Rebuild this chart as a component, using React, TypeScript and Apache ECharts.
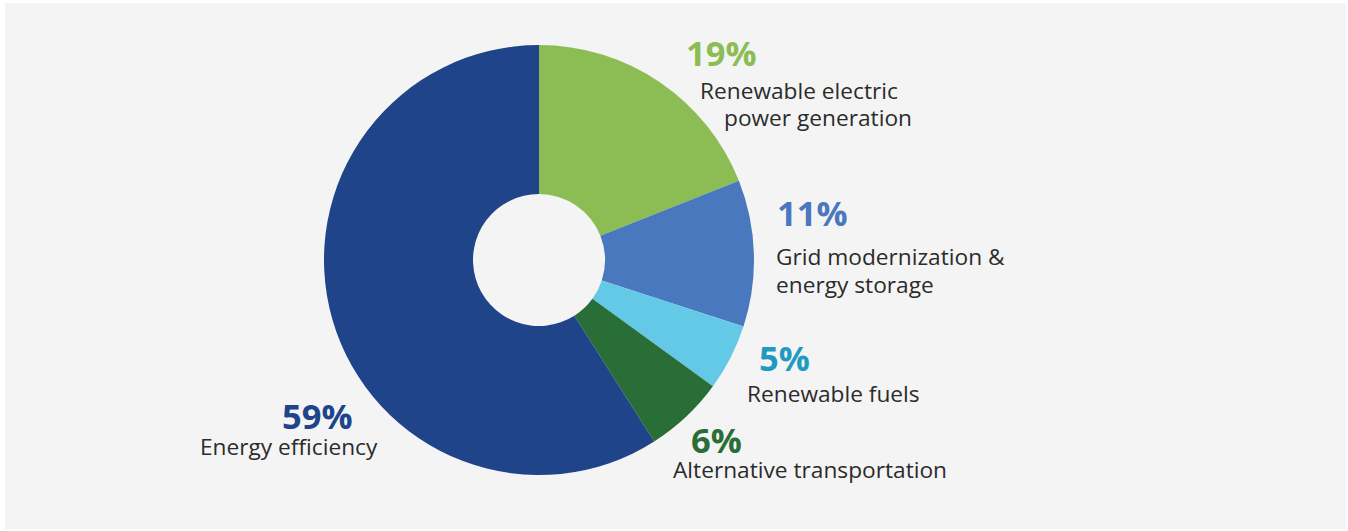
import React, { useEffect, useRef } from "react";
import * as echarts from "echarts";

const categories = [
  "Renewable electric\npower generation",
  "Grid modernization &\nenergy storage",
  "Renewable fuels",
  "Alternative transportation",
  "Energy efficiency",
];
const values = [19, 11, 5, 6, 59];
const sliceColors = ["#8cbd55", "#4a78be", "#64c9e7", "#2a6e37", "#20448a"];
const pctColors = ["#8cbd55", "#4a78be", "#1f9bc1", "#2a6e37", "#20448a"];

// label anchor positions (top-left of percent text, top-left of each name line)
const labelPos = [
  { px: 686, py: 35, lines: [{ x: 700, y: 79 }, { x: 724, y: 106 }] },
  { px: 777, py: 195, lines: [{ x: 776, y: 245 }, { x: 776, y: 273 }] },
  { px: 759, py: 340, lines: [{ x: 747, y: 382 }] },
  { px: 691, py: 422, lines: [{ x: 673, y: 458 }] },
  { px: 282, py: 398, lines: [{ x: 200, y: 435 }] },
];

export default function App() {
  const ref = useRef<HTMLDivElement>(null);
  useEffect(() => {
    document.body.style.margin = "0";
    const chart = echarts.init(ref.current!, null, { renderer: "svg" });
    const graphics: any[] = [];
    categories.forEach((name, i) => {
      const p = labelPos[i];
      graphics.push({
        type: "text",
        x: p.px,
        y: p.py,
        style: {
          text: values[i] + "%",
          fill: pctColors[i],
          font: "bold 34.5px 'Open Sans'",
          verticalAlign: "top",
        },
      });
      name.split("\n").forEach((line, j) => {
        graphics.push({
          type: "text",
          x: p.lines[j].x,
          y: p.lines[j].y,
          style: {
            text: line,
            fill: "#2b2b2b",
            font: "22.7px 'Open Sans'",
            verticalAlign: "top",
          },
        });
      });
    });
    chart.setOption({
      animation: false,
      backgroundColor: "transparent",
      graphic: graphics,
      series: [
        {
          type: "pie",
          center: [539, 260],
          radius: [66, 215],
          startAngle: 90,
          clockwise: true,
          label: { show: false },
          labelLine: { show: false },
          emphasis: { disabled: true },
          itemStyle: { borderWidth: 0 },
          data: categories.map((c, i) => ({
            name: c,
            value: values[i],
            itemStyle: { color: sliceColors[i] },
          })),
        },
      ],
    });
    return () => chart.dispose();
  }, []);
  return (
    <div style={{ position: "absolute", left: 0, top: 0, width: 1348, height: 531, background: "#ffffff" }}>
      <div style={{ position: "absolute", left: 5, top: 3, width: 1341, height: 526, background: "#f4f4f4" }} />
      <div ref={ref} style={{ position: "absolute", left: 0, top: 0, width: 1348, height: 531 }} />
    </div>
  );
}
